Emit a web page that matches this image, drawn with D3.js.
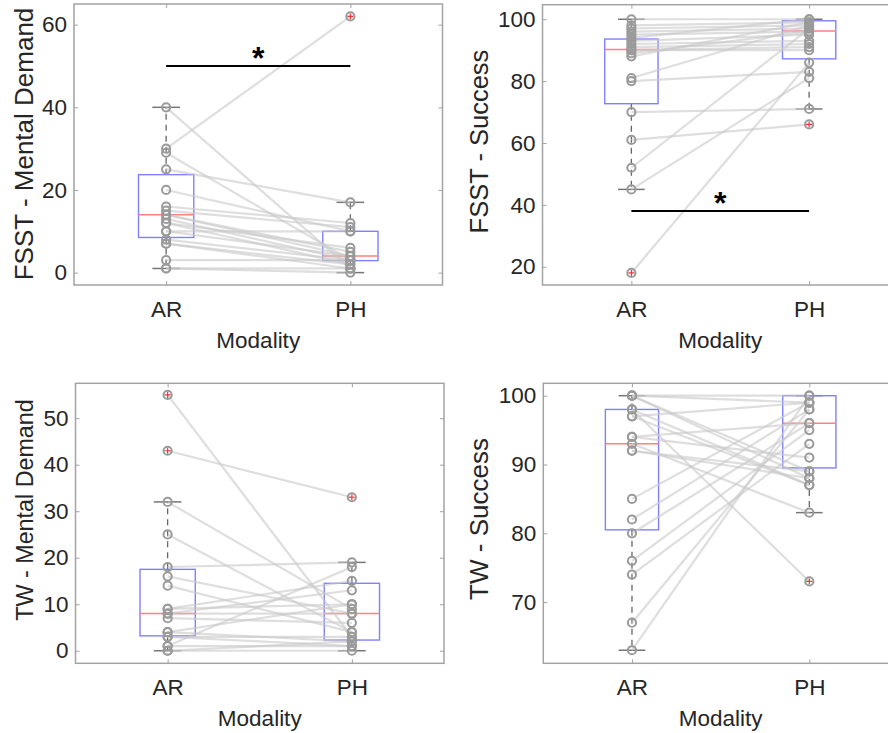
<!DOCTYPE html>
<html>
<head>
<meta charset="utf-8">
<script src="https://cdn.jsdelivr.net/npm/d3@7"></script>
<style>
  body { margin: 0; background: #fff; }
  svg { display: block; font-family: "Liberation Sans", Arial, Helvetica, sans-serif; }
</style>
</head>
<body>
<svg width="888" height="733"></svg>
<script>
const modalities = ["AR", "PH"];

// one entry per participant, AR and PH paired by index
const fsstMentalAR = [40, 30, 29, 25, 20, 16, 15, 14, 14, 13, 12, 12, 10, 10, 8, 7, 7, 3, 1, 1];
const fsstMentalPH = [1, 62, 3, 17, 10, 12, 11, 4, 5, 3, 2, 6, 10, 4, 3, 1, 2, 3, 0, 1];

const fsstSuccessAR = [100, 98, 97, 96, 95, 94, 93, 92, 91, 90, 90, 89, 88, 81, 80, 70, 61, 52, 45, 18];
const fsstSuccessPH = [100, 99, 98, 97, 96, 100, 95, 93, 92, 91, 90, 96, 99, 98, 83, 71, 66, 97, 81, 86];

const twMentalAR = [55, 43, 32, 25, 18, 16, 14, 9, 9, 8, 8, 7, 4, 4, 3, 3, 1, 1, 0, 0];
const twMentalPH = [3, 33, 9, 4, 19, 8, 4, 15, 10, 13, 8, 6, 2, 10, 3, 1, 18, 1, 2, 0];

const twSuccessAR = [100, 100, 100, 98, 98, 97, 94, 93, 92, 92, 85, 82, 80, 76, 74, 67, 63, 97, 94, 100];
const twSuccessPH = [100, 89, 88, 73, 87, 99, 91, 83, 88, 89, 99, 98, 96, 95, 93, 98, 100, 87, 96, 99];

// box stats: [lower whisker, q1, median, q3, upper whisker]
const fsstMentalBoxAR = [1, 8.5, 14, 23.7, 40];
const fsstMentalBoxPH = [0, 2.9, 4, 10, 17];
const fsstSuccessBoxAR = [45, 72.7, 90.2, 93.6, 100];
const fsstSuccessBoxPH = [71, 87.2, 96.2, 99.5, 100];
const twMentalBoxAR = [0, 3.2, 8, 17.5, 32];
const twMentalBoxPH = [0, 2.3, 8, 14.5, 19];
const twSuccessBoxAR = [63, 80.5, 93, 98, 100];
const twSuccessBoxPH = [83, 89.5, 96, 100, 100];

const fsstMentalTicks = [0, 20, 40, 60];
const fsstSuccessTicks = [20, 40, 60, 80, 100];
const twMentalTicks = [0, 10, 20, 30, 40, 50];
const twSuccessTicks = [70, 80, 90, 100];

const fsstMentalSig = 50;
const fsstSuccessSig = 38;

const svg = d3.select("svg");

const panels = [
  {label: "FSST - Mental Demand", ar: fsstMentalAR, ph: fsstMentalPH, boxes: [fsstMentalBoxAR, fsstMentalBoxPH],
   ticks: fsstMentalTicks, sig: fsstMentalSig, yDomain: [-3, 65],
   left: 74, right: 442.5, top: 4, bottom: 285, lab: {x: 33, y: 144, size: 26}},
  {label: "FSST - Success", ar: fsstSuccessAR, ph: fsstSuccessPH, boxes: [fsstSuccessBoxAR, fsstSuccessBoxPH],
   ticks: fsstSuccessTicks, sig: fsstSuccessSig, yDomain: [14.1, 104.7],
   left: 542.5, right: 898, top: 4.7, bottom: 285, lab: {x: 488, y: 141.5, size: 25.5}},
  {label: "TW - Mental Demand", ar: twMentalAR, ph: twMentalPH, boxes: [twMentalBoxAR, twMentalBoxPH],
   ticks: twMentalTicks, sig: null, yDomain: [-2.7, 57.5],
   left: 75.5, right: 444, top: 383.3, bottom: 663.3, lab: {x: 33, y: 510, size: 23.3}},
  {label: "TW - Success", ar: twSuccessAR, ph: twSuccessPH, boxes: [twSuccessBoxAR, twSuccessBoxPH],
   ticks: twSuccessTicks, sig: null, yDomain: [61.1, 101.8],
   left: 543.3, right: 898, top: 383.3, bottom: 663.3, lab: {x: 488, y: 519, size: 26}}
];

panels.forEach(drawPanel);

function styleAxis(g, showText) {
  g.attr("font-family", null).attr("font-size", 22.5);
  g.select(".domain").remove();
  g.selectAll("line").attr("stroke", "#a3a3a3").attr("stroke-width", 1);
  if (showText) g.selectAll("text").attr("fill", "#262626");
  else g.selectAll("text").remove();
}

function drawPanel(p) {
  const g = svg.append("g");
  const x = d3.scaleLinear().domain([0.5, 2.5]).range([p.left, p.right]);
  const y = d3.scaleLinear().domain(p.yDomain).range([p.bottom, p.top]);

  g.append("rect")
    .attr("x", p.left).attr("y", p.top)
    .attr("width", p.right - p.left).attr("height", p.bottom - p.top)
    .attr("fill", "none").attr("stroke", "#a3a3a3").attr("stroke-width", 1.5);

  const xAxis = d3.axisBottom(x).tickValues([1, 2]).tickFormat(d => modalities[d - 1]).tickSize(-4).tickPadding(16);
  g.append("g").attr("transform", `translate(0,${p.bottom})`).call(xAxis).call(a => styleAxis(a, true));
  g.append("g").attr("transform", `translate(0,${p.top})`).call(d3.axisTop(x).tickValues([1, 2]).tickSize(-4)).call(a => styleAxis(a, false));

  const yAxis = d3.axisLeft(y).tickValues(p.ticks).tickSize(-4).tickPadding(7);
  g.append("g").attr("transform", `translate(${p.left},0)`).call(yAxis).call(a => styleAxis(a, true));
  g.append("g").attr("transform", `translate(${p.right},0)`).call(d3.axisRight(y).tickValues(p.ticks).tickSize(-4)).call(a => styleAxis(a, false));

  // boxplots
  const bw = 0.15, cw = 0.075;
  p.boxes.forEach((b, i) => {
    const c = i + 1;
    const [lo, q1, med, q3, hi] = b;
    g.append("line").attr("x1", x(c)).attr("x2", x(c)).attr("y1", y(q3)).attr("y2", y(hi))
      .attr("stroke", "#666").attr("stroke-width", 1.3).attr("stroke-dasharray", "6,5");
    g.append("line").attr("x1", x(c)).attr("x2", x(c)).attr("y1", y(q1)).attr("y2", y(lo))
      .attr("stroke", "#666").attr("stroke-width", 1.3).attr("stroke-dasharray", "6,5");
    [lo, hi].forEach(v => {
      g.append("line").attr("x1", x(c - cw)).attr("x2", x(c + cw)).attr("y1", y(v)).attr("y2", y(v))
        .attr("stroke", "#777").attr("stroke-width", 1.5);
    });
    g.append("rect").attr("x", x(c - bw)).attr("y", y(q3))
      .attr("width", x(c + bw) - x(c - bw)).attr("height", y(q1) - y(q3))
      .attr("fill", "none").attr("stroke", "#8080ff").attr("stroke-width", 1.4);
    g.append("line").attr("x1", x(c - bw)).attr("x2", x(c + bw)).attr("y1", y(med)).attr("y2", y(med))
      .attr("stroke", "#ff8080").attr("stroke-width", 1.5);
  });

  // paired lines
  g.append("g").selectAll("line")
    .data(d3.range(p.ar.length))
    .enter().append("line")
    .attr("x1", x(1)).attr("y1", i => y(p.ar[i]))
    .attr("x2", x(2)).attr("y2", i => y(p.ph[i]))
    .attr("stroke", "#c8c8c8").attr("stroke-opacity", 0.6).attr("stroke-width", 2.2);

  // outlier markers and circles
  [p.ar, p.ph].forEach((vals, i) => {
    const c = i + 1;
    const [lo, , , , hi] = p.boxes[i];
    vals.filter(v => v < lo || v > hi).forEach(v => {
      g.append("path")
        .attr("d", `M${x(c) - 3},${y(v)}h6M${x(c)},${y(v) - 3}v6`)
        .attr("stroke", "#ff3030").attr("stroke-width", 1.2);
    });
    g.append("g").selectAll("circle")
      .data(vals)
      .enter().append("circle")
      .attr("cx", x(c)).attr("cy", d => y(d)).attr("r", 4.1)
      .attr("fill", "none").attr("stroke", "#9a9a9a").attr("stroke-width", 2);
  });

  if (p.sig !== null) {
    g.append("line").attr("x1", x(1)).attr("x2", x(2)).attr("y1", y(p.sig)).attr("y2", y(p.sig))
      .attr("stroke", "#000").attr("stroke-width", 2);
    g.append("text").attr("x", x(1.5)).attr("y", y(p.sig) + 3)
      .attr("text-anchor", "middle").attr("font-size", 32).attr("font-weight", "bold")
      .attr("fill", "#000").text("*");
  }

  g.append("text")
    .attr("x", (p.left + Math.min(p.right, 898)) / 2)
    .attr("y", p.bottom + 62.5)
    .attr("text-anchor", "middle").attr("font-size", 22.5).attr("fill", "#262626")
    .text("Modality");

  g.append("text")
    .attr("transform", `translate(${p.lab.x},${p.lab.y}) rotate(-90)`)
    .attr("text-anchor", "middle").attr("font-size", p.lab.size).attr("fill", "#262626")
    .text(p.label);
}
</script>
</body>
</html>
